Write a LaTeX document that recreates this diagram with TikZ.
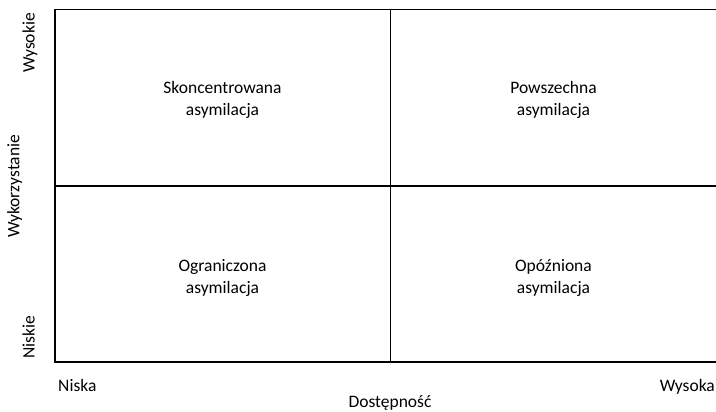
\documentclass[tikz,border=0pt]{standalone}
\usepackage{fontspec}
\setmainfont{Carlito}

\begin{document}
\begin{tikzpicture}[
			x=1pt, y=-1pt,
			every node/.style={font=\fontsize{17.5}{21.5}\selectfont, inner sep=0pt},
			cell/.style={align=center},
			haxis/.style={anchor=base},
			vaxis/.style={anchor=base, rotate=90},
			grid/.style={draw, black, line width=1.3pt}
			]
			\useasboundingbox (0,0) rectangle (716,412);
			
			% siatka
			\coordinate (TL) at (55,9.5);
			\coordinate (BL) at (55,362);
			\coordinate (TR) at (718,9.5);
			\coordinate (BR) at (718,362);
			\coordinate (TM) at (390.5,9.5);
			\coordinate (BM) at (390.5,362);
			\coordinate (ML) at (55,186);
			\coordinate (MR) at (718,186);
			\draw [grid] (TR) -- (TL) -- (BL) -- (BR);
			\draw [grid] (TM) -- (BM);
			\draw [grid] (ML) -- (MR);
			
			% pola
			\node (SA) [cell] at (222.5,100) {Skoncentrowana\\asymilacja};
			\node (PA) [cell] at (553.5,100) {Powszechna\\asymilacja};
			\node (GA) [cell] at (222.5,278) {Ograniczona\\asymilacja};
			\node (OA) [cell] at (553.5,278) {Opóźniona\\asymilacja};
			
			% osie
			\node (Niska) [haxis, anchor=base west] at (58,391.7) {Niska};
			\node (Wysoka) [haxis, anchor=base east] at (715,391.7) {Wysoka};
			\node (Dost) [haxis] at (390,407.7) {Dostępność};
			\node (Wysokie) [vaxis] at (34.5,43) {Wysokie};
			\node (Wyk) [vaxis] at (19.5,186.5) {Wykorzystanie};
			\node (Niskie) [vaxis] at (34.5,337.5) {Niskie};
			
		\end{tikzpicture}
\end{document}
